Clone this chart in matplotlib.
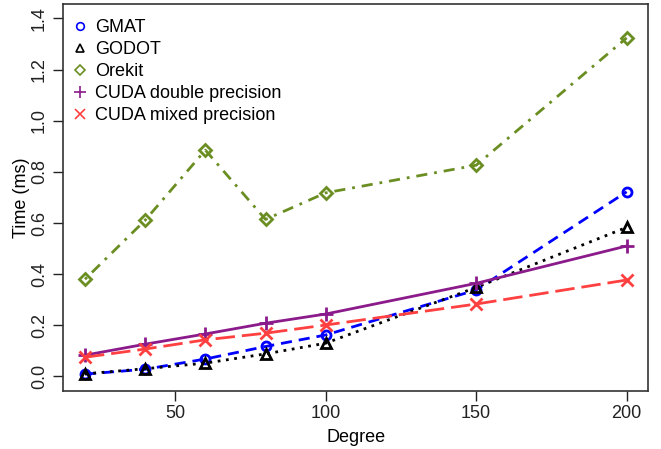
import matplotlib
matplotlib.use("Agg")
import matplotlib.pyplot as plt
from matplotlib.lines import Line2D

plt.rcParams['font.family'] = ['Liberation Sans', 'DejaVu Sans']

# Data
degree = [20, 40, 60, 80, 100, 150, 200]
gmat = [0.009, 0.028, 0.068, 0.117, 0.162, 0.338, 0.722]
godot = [0.010, 0.030, 0.052, 0.088, 0.130, 0.348, 0.583]
orekit = [0.380, 0.611, 0.885, 0.614, 0.718, 0.826, 1.324]
cuda_double = [0.083, 0.126, 0.166, 0.208, 0.244, 0.364, 0.510]
cuda_mixed = [0.075, 0.107, 0.143, 0.169, 0.201, 0.283, 0.377]

names = ['GMAT', 'GODOT', 'Orekit', 'CUDA double precision', 'CUDA mixed precision']
colors = ['#0000ff', '#000000', '#6b8e23', '#8b1a8b', '#ff4040']
markers = ['o', '^', 'D', '+', 'x']
msizes = [6.5, 7.0, 6.0, 10, 8]
styles = [(0, (4, 2.5)), (0, (1, 2)), (0, (1, 2.5, 4, 2.5)), '-', (0, (7, 2.5))]
series = [gmat, godot, orekit, cuda_double, cuda_mixed]

fig = plt.figure(figsize=(6.61, 4.49), dpi=100)
ax = fig.add_axes([0.0958, 0.1298, 0.885, 0.861])

for vals, c, m, ms, ls in zip(series, colors, markers, msizes, styles):
    ax.plot(degree, vals, color=c, linestyle=ls, linewidth=2)
    ax.plot(degree, vals, color=c, linestyle='none', marker=m, markersize=ms,
            markerfacecolor='none', markeredgecolor=c, markeredgewidth=2)

ax.set_xlim(12.8, 207.2)
ax.set_ylim(-0.056, 1.456)
ax.set_xticks([50, 100, 150, 200])
ax.set_yticks([0.0, 0.2, 0.4, 0.6, 0.8, 1.0, 1.2, 1.4])
ax.set_yticklabels(['0.0', '0.2', '0.4', '0.6', '0.8', '1.0', '1.2', '1.4'],
                   rotation=90, va='center')
ax.tick_params(direction='out', length=7, width=1, labelsize=13, pad=3,
               colors='#222222')
ax.tick_params(axis='y', pad=4)
for sp in ax.spines.values():
    sp.set_color('#333333')
    sp.set_linewidth(1.2)

ax.set_xlabel('Degree', fontsize=13, labelpad=5)
ax.set_ylabel('Time (ms)', fontsize=13, labelpad=1)

handles = [Line2D([], [], color=c, linestyle='none', marker=m, markersize=ms * 0.85,
                  markerfacecolor='none', markeredgewidth=1.2)
           for c, m, ms in zip(colors, markers, msizes)]
ax.legend(handles, names, loc='upper left', bbox_to_anchor=(-0.005, 0.99),
          frameon=False, fontsize=13, handlelength=1.0, handletextpad=0.3,
          labelspacing=0.28, borderaxespad=0.2)

fig.savefig('out.png', dpi=100)
